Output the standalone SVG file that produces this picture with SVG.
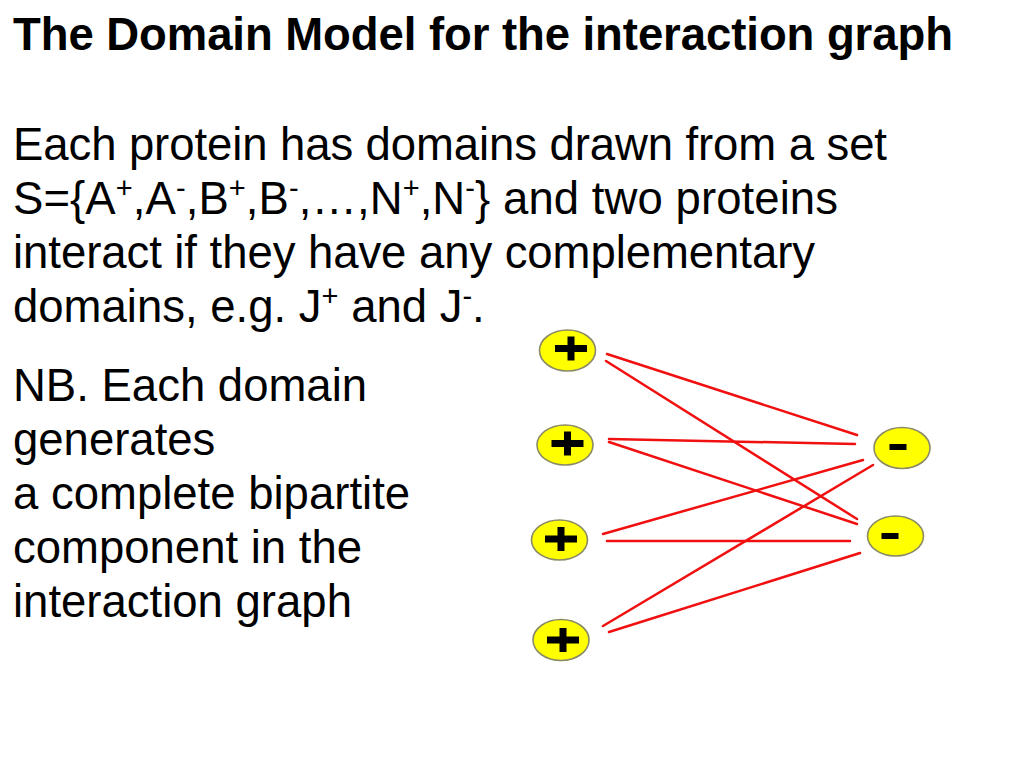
<svg xmlns="http://www.w3.org/2000/svg" xmlns:xlink="http://www.w3.org/1999/xlink" width="1024" height="768" viewBox="0 0 1024 768">
<style>
  .title { font-family: "Liberation Sans", Arial, sans-serif; font-weight: bold; font-size: 45.5px; fill: #000; }
  .body { font-family: "Liberation Sans", Arial, sans-serif; font-size: 45.5px; fill: #000; }
  .sup { font-size: 29px; }
  .node { fill: #ffff00; stroke: #8a8a66; stroke-width: 1.6; }
  .edge { stroke: #f01010; stroke-width: 2.5; fill: none; stroke-linecap: round; }
  .sign { fill: #000; }
</style>
<defs>
  <g id="plusSign">
    <rect class="sign" x="-16" y="-3.5" width="32" height="7"/>
    <rect class="sign" x="-3.5" y="-12" width="7" height="24"/>
  </g>
  <g id="minusSign">
    <rect class="sign" x="-8.5" y="-3" width="17" height="6"/>
  </g>
</defs>
<rect width="1024" height="768" fill="#ffffff"/>

<text class="title" x="13" y="50" textLength="940">The Domain Model for the interaction graph</text>

<g id="text-body">
  <text class="body" x="13" y="160" textLength="874">Each protein has domains drawn from a set</text>
  <text class="body" x="13" y="214" textLength="825">S={A<tspan class="sup" baseline-shift="super">+</tspan>,A<tspan class="sup" baseline-shift="super">-</tspan>,B<tspan class="sup" baseline-shift="super">+</tspan>,B<tspan class="sup" baseline-shift="super">-</tspan>,…,N<tspan class="sup" baseline-shift="super">+</tspan>,N<tspan class="sup" baseline-shift="super">-</tspan>} and two proteins</text>
  <text class="body" x="13" y="268" textLength="802">interact if they have any complementary</text>
  <text class="body" x="13" y="322">domains, e.g. J<tspan class="sup" baseline-shift="super">+</tspan> and J<tspan class="sup" baseline-shift="super">-</tspan>.</text>
  <text class="body" x="13" y="401">NB. Each domain</text>
  <text class="body" x="13" y="455">generates</text>
  <text class="body" x="13" y="509">a complete bipartite</text>
  <text class="body" x="13" y="563">component in the</text>
  <text class="body" x="13" y="617">interaction graph</text>
</g>

<g id="connectors">
  <line class="edge" x1="607" y1="354" x2="857" y2="435"/>
  <line class="edge" x1="606" y1="361" x2="857" y2="519"/>
  <line class="edge" x1="609" y1="439" x2="855" y2="444"/>
  <line class="edge" x1="609" y1="442" x2="857" y2="524"/>
  <line class="edge" x1="603" y1="534" x2="863" y2="460"/>
  <line class="edge" x1="607" y1="541" x2="850" y2="541"/>
  <line class="edge" x1="603" y1="626" x2="873" y2="465"/>
  <line class="edge" x1="609" y1="632" x2="860" y2="553"/>
</g>

<g id="plus1">
  <ellipse class="node" cx="567.5" cy="350.5" rx="28" ry="20.5"/>
  <use xlink:href="#plusSign" x="571" y="348.5"/>
</g>
<g id="plus2">
  <ellipse class="node" cx="565" cy="445" rx="28" ry="20"/>
  <use xlink:href="#plusSign" x="567.5" y="443.5"/>
</g>
<g id="plus3">
  <ellipse class="node" cx="559.5" cy="540" rx="28" ry="20"/>
  <use xlink:href="#plusSign" x="561" y="539"/>
</g>
<g id="plus4">
  <ellipse class="node" cx="561" cy="640" rx="28" ry="20.5"/>
  <use xlink:href="#plusSign" x="563" y="640"/>
</g>
<g id="minus1">
  <ellipse class="node" cx="902" cy="448" rx="28" ry="20.5"/>
  <use xlink:href="#minusSign" x="898" y="447"/>
</g>
<g id="minus2">
  <ellipse class="node" cx="895.5" cy="536" rx="28" ry="20"/>
  <use xlink:href="#minusSign" x="890" y="536"/>
</g>
</svg>
